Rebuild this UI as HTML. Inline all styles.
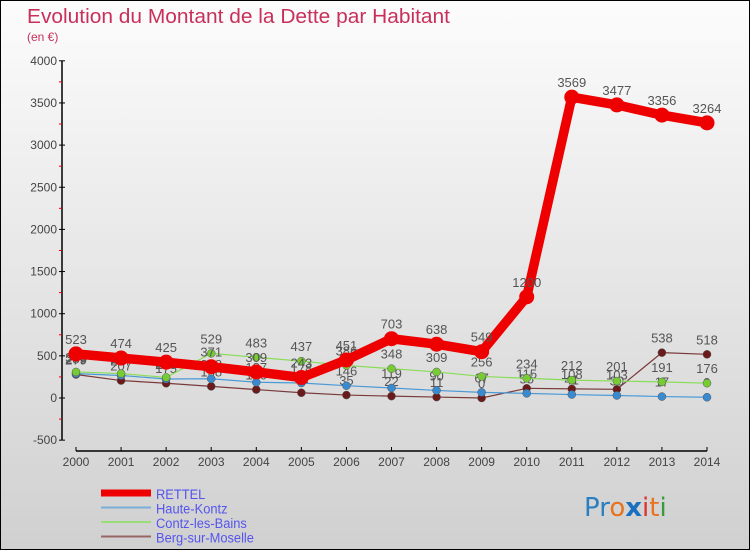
<!DOCTYPE html>
<html><head><meta charset="utf-8"><style>
html,body{margin:0;padding:0}
body{width:750px;height:550px;overflow:hidden;font-family:"Liberation Sans",sans-serif}
#wrap{position:relative;width:748px;height:548px;border:1px solid #000;background:linear-gradient(#fcfcfc,#d0d0d0)}
svg{position:absolute;left:0;top:0}
</style></head><body>
<div id="wrap">
<svg id="chart" width="750" height="550">
<text x="26" y="22" font-size="20" fill="#c8305a" textLength="423" lengthAdjust="spacingAndGlyphs">Evolution du Montant de la Dette par Habitant</text>
<text x="26" y="40" font-size="12" fill="#c8305a">(en €)</text>
<g id="axes"></g><g id="series"></g><g id="legend"></g>
<text x="583" y="515" font-size="26" font-family="DejaVu Sans, sans-serif"><tspan fill="#2a7fc0">Pr</tspan><tspan fill="#e8731c">o</tspan><tspan fill="#1a6fc0" font-weight="bold">x</tspan><tspan fill="#e03030">i</tspan><tspan fill="#e8731c">t</tspan><tspan fill="#3a9a3a">i</tspan></text>
</svg>
</div>
<script>
const years=[2000,2001,2002,2003,2004,2005,2006,2007,2008,2009,2010,2011,2012,2013,2014];
const rettel=[523,474,425,371,309,243,451,703,638,549,1200,3569,3477,3356,3264];
const hauteKontz=[289,267,225,228,187,178,146,119,90,67,55,41,30,17,9];
const contz=[309,290,244,529,483,437,386,348,309,256,234,212,201,191,176];
const berg=[279,207,175,138,100,62,35,22,11,0,115,108,103,538,518];
const yTicks=[-500,0,500,1000,1500,2000,2500,3000,3500,4000];
const seriesNames=["RETTEL","Haute-Kontz","Contz-les-Bains","Berg-sur-Moselle"];
const NS="http://www.w3.org/2000/svg";
const X=i=>75+i*(706-75)/(years.length-1);
const Y=v=>397-v*0.0843;
function mk(tag,attrs,parent,text){const e=document.createElementNS(NS,tag);for(const k in attrs)e.setAttribute(k,attrs[k]);if(text!==undefined)e.textContent=text;parent.appendChild(e);return e;}
const ax=document.getElementById('axes');
let yl=mk('line',{x1:61,y1:Y(4000),x2:61,y2:Y(-500),stroke:'#000','stroke-width':1.5},ax);


yTicks.forEach((t,i)=>{
 mk('line',{x1:58,y1:Y(t),x2:64,y2:Y(t),stroke:'#000'},ax);
 if(i<yTicks.length-1) mk('line',{x1:58,y1:Y(t+250),x2:61,y2:Y(t+250),stroke:'#e00'},ax);
 const tx=mk('text',{x:56,y:Y(t)+4,'text-anchor':'end','font-size':12,fill:'#444'},ax,String(t));
 
 
});
let xl=mk('line',{x1:X(0),y1:450,x2:X(14),y2:450,stroke:'#000','stroke-width':1.5},ax);


years.forEach((y,i)=>{
 mk('line',{x1:X(i),y1:446,x2:X(i),y2:450,stroke:'#000'},ax);
 const tx=mk('text',{x:X(i),y:465,'text-anchor':'middle','font-size':12,fill:'#444'},ax,String(y));
 
 
});
const sg=document.getElementById('series');
const defs=[
 {d:berg,c:'#7a3a3a',dot:'#6a1a1a',w:1.2,r:4,name:'berg-sur-moselle'},
 {d:hauteKontz,c:'#4a9ad8',dot:'#3a8ad0',w:1.2,r:4,name:'haute-kontz'},
 {d:contz,c:'#88dd55',dot:'#77cc33',w:1.2,r:4,name:'contz-les-bains'},
 {d:rettel,c:'#ee0000',dot:'#ee0000',w:9.5,r:7.5,name:'rettel'}];
defs.forEach(s=>{
 const g=mk('g',{},sg);
 
 
 const pl=mk('polyline',{points:s.d.map((v,i)=>X(i)+','+Y(v)).join(' '),fill:'none',stroke:s.c,'stroke-width':s.w,'stroke-linejoin':'round'},g);
 
 
 s.d.forEach((v,i)=>{
  const c=mk('circle',{cx:X(i),cy:Y(v),r:s.r,fill:s.dot,stroke:s.r>5?'none':'#555','stroke-width':0.5},g);
  
  
  const t=mk('text',{x:X(i),y:Y(v)-10,'text-anchor':'middle','font-size':13,fill:'#555'},g,String(v));
  
  
 });
});
const lg=document.getElementById('legend');
const lc=['#ee0000','#7aaed8','#99dd77','#996666'];
seriesNames.forEach((n,i)=>{
 const y=492+i*14.5;
 const l=mk('line',{x1:100,y1:y,x2:150,y2:y,stroke:lc[i],'stroke-width':i==0?7:2},lg);
 
 
 const t=mk('text',{x:155,y:y+6,'font-size':14,fill:'#5555ee',transform:'translate(155,0) scale(0.92,1) translate(-155,0)'},lg,n);
 
 
});
</script>
</body></html>
